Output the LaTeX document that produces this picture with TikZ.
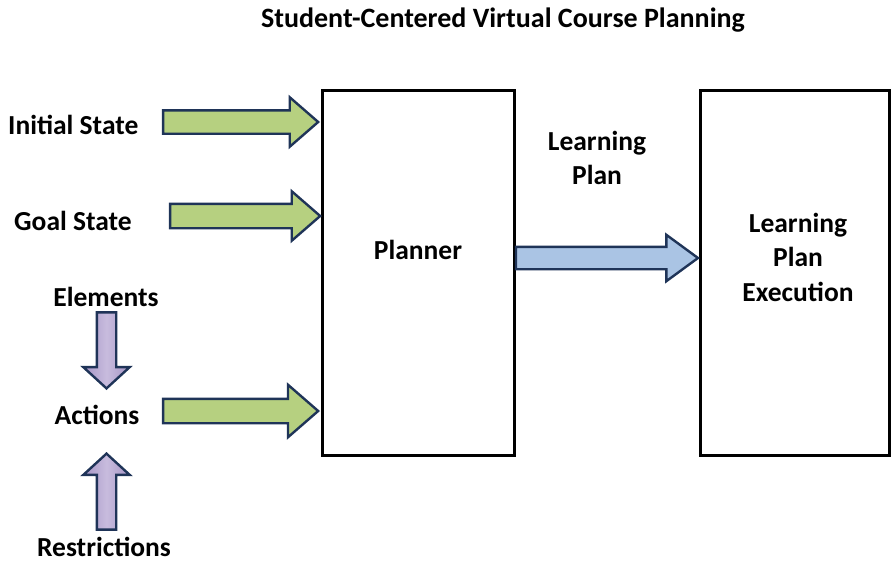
\documentclass[tikz,border=0pt]{standalone}
\usepackage{fontspec}
\setmainfont{Carlito}
\usetikzlibrary{shapes.arrows}
\definecolor{navy}{RGB}{31,52,88}
\definecolor{grnE}{RGB}{182,208,128}
\definecolor{grnM}{RGB}{222,234,186}
\definecolor{purE}{RGB}{165,148,196}
\definecolor{purM}{RGB}{200,188,222}
\definecolor{bluE}{RGB}{170,196,228}
\definecolor{bluM}{RGB}{208,222,240}
\tikzset{
  lbl/.style={font=\bfseries\fontsize{27.5}{34.5}\selectfont, inner sep=0pt},
  ttl/.style={font=\bfseries\fontsize{28}{32}\selectfont, inner sep=0pt},
  panel/.style={draw=black, line width=3pt, inner sep=0pt},
  barrow/.style={single arrow, draw=navy, line width=2.4pt, inner xsep=0pt, anchor=tip},
  garrow/.style={barrow, top color=grnE, middle color=grnM, bottom color=grnE,
     inner ysep=10.5pt, single arrow head extend=13pt, single arrow tip angle=82, minimum height=155pt},
  parrow/.style={barrow, left color=purE, right color=purE, middle color=purM,
     inner xsep=8.5pt, inner ysep=0pt, single arrow head extend=13.5pt, single arrow tip angle=95, minimum height=76pt},
}
\begin{document}
\begin{tikzpicture}[x=1pt,y=-1pt]
\useasboundingbox (0,0) rectangle (891,562);
\node[ttl] (title) at (503,20) {Student-Centered Virtual Course Planning};
\node[panel, minimum width=192pt, minimum height=365pt] (planner) at (418,272.5) {};
\node[panel, minimum width=189pt, minimum height=365pt] (exec) at (794.5,272.5) {};
\node[lbl] (plannerT) at (418,250) {Planner};
\node[lbl, align=center] (execT) at (798,257) {Learning\\Plan\\Execution};
\node[lbl, align=center] (lp) at (597,158) {Learning\\Plan};
\node[lbl, anchor=west] (init) at (8,125) {Initial State};
\node[lbl, anchor=west] (goal) at (14,221) {Goal State};
\node[lbl] (elem) at (106,297) {Elements};
\node[lbl] (act) at (97,415) {Actions};
\node[lbl] (restr) at (104,547) {Restrictions};
\node[garrow] (a1) at (320,122) {};
\node[garrow, minimum height=150pt, inner ysep=11pt, single arrow head extend=12.5pt] (a2) at (322,216) {};
\node[garrow, inner ysep=11pt, single arrow head extend=14pt] (a3) at (320,411) {};
\node[barrow, top color=bluE, middle color=bluM, bottom color=bluE,
     inner ysep=10pt, single arrow head extend=12pt, single arrow tip angle=72.5, minimum height=182pt] (a4) at (700,258) {};
\node[parrow, shape border rotate=270] (a5) at (106.5,390) {};
\node[parrow, shape border rotate=90] (a6) at (106.5,452) {};
\end{tikzpicture}
\end{document}
